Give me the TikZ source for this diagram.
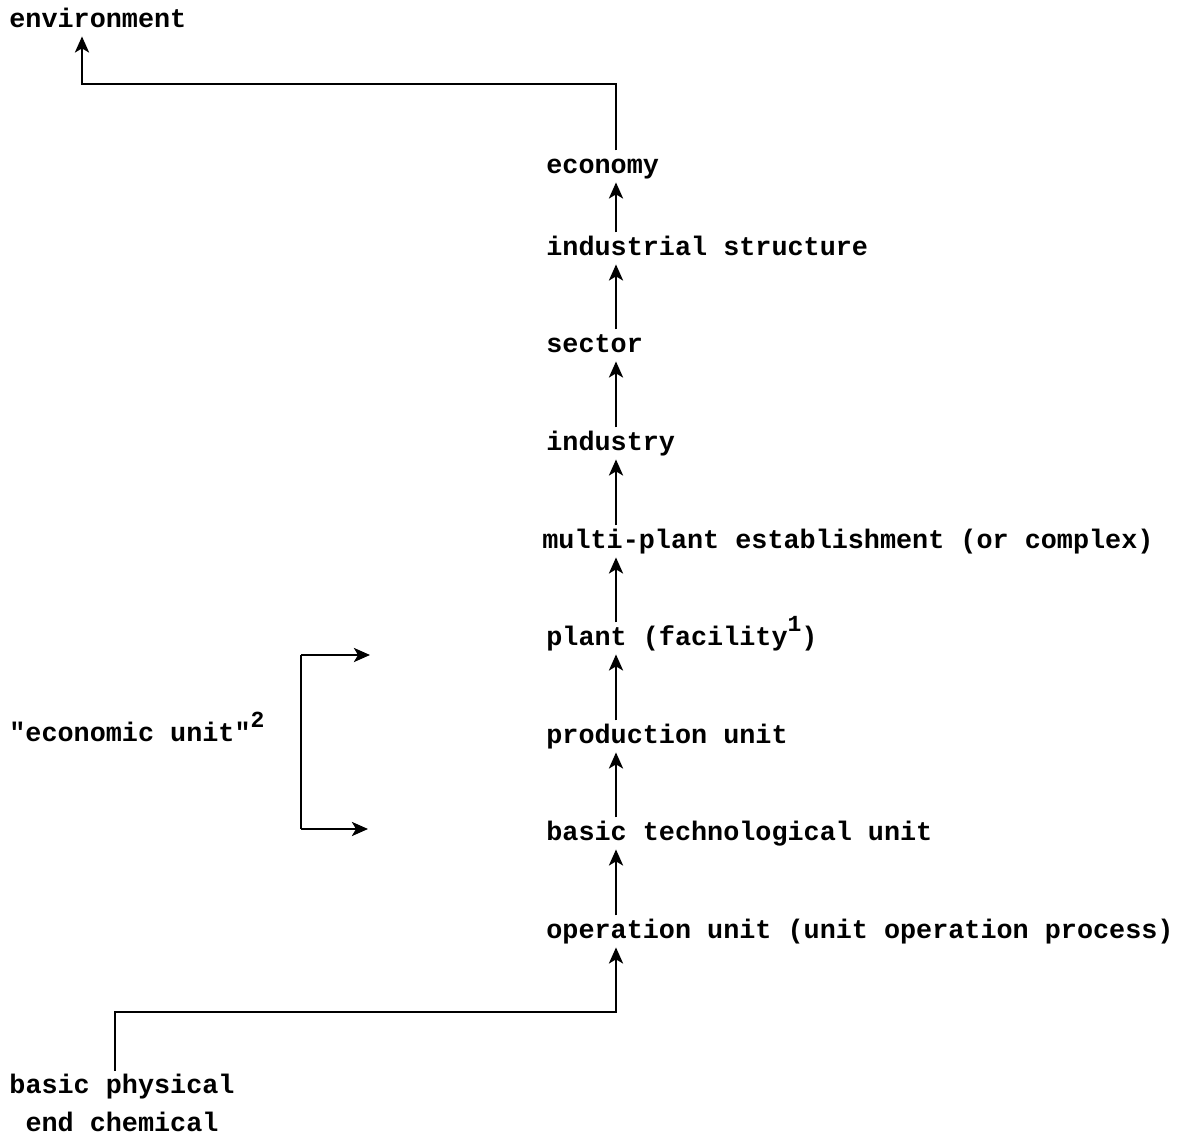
\documentclass[tikz,border=0pt]{standalone}
\usepackage{fontspec}
\setmonofont{Liberation Mono}
\usepackage{tikz}
\usetikzlibrary{positioning,arrows.meta,calc}
\newcommand{\nota}[1]{\raisebox{7pt}{\fontsize{11.5}{11.5}\selectfont #1}}

\begin{document}
\begin{tikzpicture}[x=0.5pt, y=-0.5pt,
        nivel/.style={inner sep=1.5pt, text height=9.6pt, text depth=3pt,
            font=\ttfamily\bfseries\fontsize{13.4}{19}\selectfont},
        flecha/.style={-{Stealth[length=8pt, width=7pt, inset=2pt]}, line width=1.4pt},
        linea/.style={line width=1.4pt}
    ]
        \useasboundingbox (0,0) rectangle (1191,1140);
        \coordinate (eje) at (616,0);

        \node[nivel, anchor=base west] (entorno) at (6, 27) {environment};
        \node[nivel, anchor=base west] (economia) at (543, 173) {economy};
        \node[nivel, anchor=base west] (estructura) at (543, 255) {industrial structure};
        \node[nivel, anchor=base west] (sector) at (543, 352) {sector};
        \node[nivel, anchor=base west] (industria) at (543, 450) {industry};
        \node[nivel, anchor=base west] (complejo) at (539, 548) {multi-plant establishment (or complex)};
        \node[nivel, anchor=base west] (planta) at (543, 645) {plant (facility\nota{1})};
        \node[nivel, anchor=base west] (produccion) at (543, 743) {production unit};
        \node[nivel, anchor=base west] (tecnologica) at (543, 840) {basic technological unit};
        \node[nivel, anchor=base west] (operacion) at (543, 938) {operation unit (unit operation process)};
        \node[nivel, anchor=base west] (economica) at (6, 741) {"economic unit"\nota{2}};
        \node[nivel, anchor=north, align=center, text height=, text depth=] (basica) at (122, 1071)
            {basic physical\\end chemical};

        % cadena de niveles
        \draw[flecha] (operacion.north -| eje) -- (tecnologica.south -| eje);
        \draw[flecha] (tecnologica.north -| eje) -- (produccion.south -| eje);
        \draw[flecha] (produccion.north -| eje) -- (planta.south -| eje);
        \draw[flecha] (planta.north -| eje) -- (complejo.south -| eje);
        \draw[flecha] (complejo.north -| eje) -- (industria.south -| eje);
        \draw[flecha] (industria.north -| eje) -- (sector.south -| eje);
        \draw[flecha] (sector.north -| eje) -- (estructura.south -| eje);
        \draw[flecha] (estructura.north -| eje) -- (economia.south -| eje);

        \draw[flecha] (economia.north -| eje) -- (eje |- 0,84) -| (entorno.south -| 82,0);
        \draw[flecha] ([xshift=-3.5pt]basica.north) |- (eje |- 0,1012) -- (operacion.south -| eje);

        % llave de la unidad economica
        \coordinate (llaveA) at (301, 655);
        \coordinate (llaveB) at (301, 829);
        \coordinate (puntaA) at (370, 655);
        \coordinate (puntaB) at (368, 829);
        \draw[flecha] (llaveA) -- (puntaA);
        \draw[flecha] (llaveB) -- (puntaB);
        \draw[linea] (llaveA) -- (llaveB);
    \end{tikzpicture}
\end{document}
